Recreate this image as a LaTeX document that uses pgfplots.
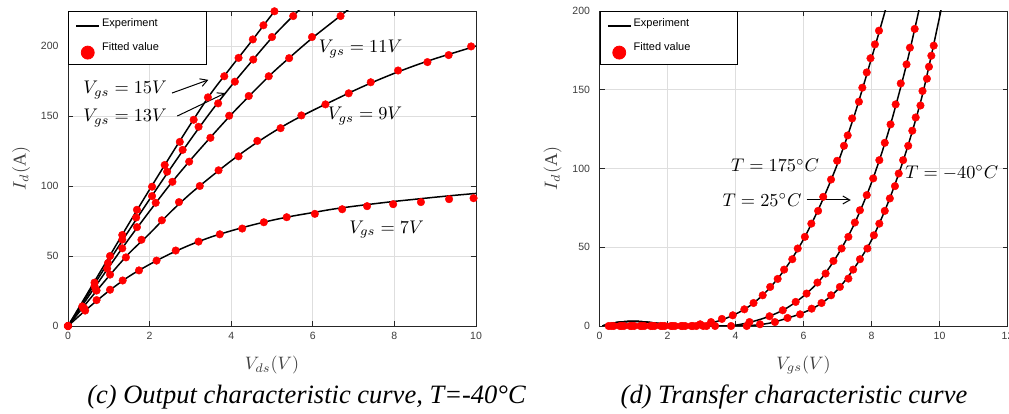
\documentclass[border=0pt]{standalone}
\usepackage{fontspec}
\setmainfont{Liberation Serif}
\newfontfamily\arialf{Liberation Sans}
\usepackage{pgfplots}
\pgfplotsset{compat=1.18}
\usetikzlibrary{arrows.meta}
\definecolor{tickgray}{RGB}{60,60,60}
\definecolor{gridgray}{RGB}{222,222,222}

\pgfplotsset{
  mystyle/.style={
    scale only axis,
    width=408pt, height=315pt,
    xmin=0, ymin=0,
    tick align=inside,
    major tick length=5pt,
    grid=major,
    grid style={gridgray, line width=0.7pt},
    axis line style={black!85, line width=0.8pt},
    tick style={black!85, line width=0.8pt},
    tick label style={font=\arialf\fontsize{10.5}{12}\selectfont, text=tickgray},
    /pgf/number format/assume math mode=true,
    yticklabel style={xshift=-6pt},
    xticklabel style={yshift=-3pt},
    label style={scale=1.8, text=black!75},
    xlabel style={at={(axis description cs:0.5,-0.124)}, anchor=center},
    ylabel style={at={(axis description cs:-0.115,0.5)}, anchor=center},
    legend style={at={(rel axis cs:0,1)}, anchor=north west, draw=black, line width=0.8pt, fill=white,
      font=\arialf\fontsize{11}{13}\selectfont, inner xsep=7pt, inner ysep=5pt, row sep=11pt},
    legend cell align=left,
  },
  explin/.style={black, line width=1.5pt, smooth, no markers},
  fitdot/.style={only marks, mark=*, mark size=3.8pt, mark options={fill=red, draw=red}, red},
  linleg/.style={legend image code/.code={\draw[black, line width=1.7pt] (0pt,-3pt) -- (23pt,-3pt);}},
  dotleg/.style={legend image code/.code={\fill[red] (11.5pt,-5pt) circle (6.5pt);}},
}

\begin{document}
\begin{tikzpicture}
\useasboundingbox (0,0) rectangle (1009pt,414pt);

% ---------------- (c) output characteristic ----------------
\begin{axis}[mystyle, at={(68pt,88pt)}, anchor=south west,
  xmax=10, ymax=225,
  xtick={0,2,4,6,8,10}, ytick={0,50,100,150,200},
  xlabel={$V_{ds}(V)$}, ylabel={$I_d(\mathrm{A})$}]
% Experiment lines
\addplot[explin, linleg] coordinates {(0,0)(0.5,24.5)(1,49)(1.5,73.5)(2,97.5)(2.5,121)(3,144)(3.5,166)(4,185)(4.5,203.5)(5,222.5)(5.5,240)};
\addlegendentry{Experiment}
\addplot[explin, forget plot] coordinates {(0,0)(0.5,23)(1,46)(1.5,68.5)(2,90.5)(2.5,112)(3,133)(3.5,153)(4,171.5)(4.5,189)(5,206)(5.5,221)(6,235)};
\addplot[explin, forget plot] coordinates {(0,0)(0.5,21)(1,42)(1.5,62.5)(2,82)(2.5,101)(3,118.5)(3.5,135)(4,151)(4.5,166)(5,180.5)(5.5,193.5)(6,206)(6.5,217.5)(7,229)};
\addplot[explin, forget plot] coordinates {(0,0)(0.5,18)(1,35.5)(1.5,52)(2,66)(2.5,81)(3,94.5)(3.5,106.5)(4,118)(4.5,128.5)(5,138)(5.5,146.5)(6,154)(6.5,161)(7,168)(7.5,174.5)(8,180.5)(8.5,186)(9,191)(9.5,195.5)(10,200)};
\addplot[explin, forget plot] coordinates {(0,0)(0.5,13)(1,25)(1.5,35.5)(2,44)(2.5,51.5)(3,58)(3.5,63.5)(4,68)(4.5,72)(5,75.5)(5.5,78.5)(6,81)(6.5,83.5)(7,85.5)(7.5,87.3)(8,89)(8.5,90.5)(9,92)(9.5,93.4)(10,94.7)};
% Fitted values
\addplot[fitdot, dotleg] coordinates {(0,0)(0.35,14)(0.65,31)(1.03,50)(1.33,65)(1.69,83)(2.06,99.5)(2.37,115)(2.74,131.5)(3.08,147.3)(3.43,163.3)(3.83,178.4)(4.18,191.5)(4.53,204.7)(4.79,214.8)(5.06,224.8)};
\addlegendentry{Fitted value\hspace*{38pt}}
\addplot[fitdot, forget plot] coordinates {(0,0)(0.37,13)(0.65,28.5)(0.98,45)(1.33,61.7)(1.67,77.5)(2.06,92.8)(2.43,110.2)(2.81,125.8)(3.2,142.3)(3.68,159)(4.09,174.5)(4.54,190.3)(5.0,206.4)(5.52,221.4)};
\addplot[fitdot, forget plot] coordinates {(0,0)(0.4,12.5)(0.68,26)(0.96,41)(1.33,55.5)(1.69,70.6)(2.15,88)(2.56,103)(2.97,117.4)(3.49,134.4)(3.95,150.2)(4.43,164.3)(4.92,178.4)(5.42,191.3)(5.98,206.4)(6.68,221.4)};
\addplot[fitdot, forget plot] coordinates {(0,0)(0.42,11)(0.7,25.3)(1.03,36.7)(1.42,49)(1.8,61.6)(2.3,75.5)(2.72,88.5)(3.23,100)(3.69,111.2)(4.18,121.2)(4.64,132.2)(5.21,141.3)(5.72,150.4)(6.31,158.3)(6.88,166.2)(7.42,174.1)(8.09,182.5)(8.81,188.5)(9.33,193.5)(9.88,199.7)};
\addplot[fitdot, forget plot] coordinates {(0,0)(0.7,18.5)(1.03,25.9)(1.34,32.5)(1.74,39.7)(2.17,46.7)(2.64,53.9)(3.2,60.3)(3.72,65.5)(4.27,69.6)(4.8,74.1)(5.36,77.7)(6.05,80.1)(6.72,83.4)(7.33,85.6)(7.97,87)(8.65,88.5)(9.34,90.6)(9.94,91.3)};
% annotations
\begin{scope}[every node/.style={scale=1.83, text=black}]
\node at (axis cs:7.17,198) {$V_{gs}=11V$};
\node at (axis cs:7.28,150) {$V_{gs}=9V$};
\node at (axis cs:7.81,69) {$V_{gs}=7V$};
\node at (axis cs:1.4,168.6) {$V_{gs}=15V$};
\node at (axis cs:1.4,148.5) {$V_{gs}=13V$};
\end{scope}
\draw[-{Straight Barb[length=7pt,width=8pt]}, line width=1pt] (axis cs:2.55,166.4) -- (axis cs:3.44,175.8);
\draw[-{Straight Barb[length=7pt,width=8pt]}, line width=1pt] (axis cs:2.68,150) -- (axis cs:3.86,166.4);
\end{axis}

% ---------------- (d) transfer characteristic ----------------
\begin{axis}[mystyle, at={(599.5pt,88pt)}, anchor=south west,
  xmax=12, ymax=200,
  xtick={0,2,4,6,8,10,12}, ytick={0,50,100,150,200},
  xlabel={$V_{gs}(V)$}, ylabel={$I_d(\mathrm{A})$}]
\addplot[explin, linleg] coordinates {(0.08,0)(0.5,2.2)(1,3)(1.5,2.2)(2,0.9)(2.5,0.2)(3,0.8)(3.5,3.2)(4,7.5)(4.5,14)(5,24)(5.5,37.5)(6,55)(6.5,77)(7,103)(7.5,134)(8,170)(8.4,200)(8.5,210)};
\addlegendentry{Experiment}
\addplot[explin, forget plot] coordinates {(0.08,0)(0.5,2.2)(1,3)(1.5,2.2)(2,0.9)(2.5,0.2)(3,0)(3.5,0)(4,0.5)(4.5,2.8)(5,6.2)(5.5,11.3)(6,19)(6.5,29.5)(7,45)(7.5,65)(8,91)(8.5,123.5)(9,163.5)(9.4,201)};
\addplot[explin, forget plot] coordinates {(0.08,0)(0.5,2.2)(1,3)(1.5,2.2)(2,0.9)(2.5,0.2)(3,0)(4,0)(4.5,0.4)(5,1.8)(5.5,4.8)(6,8.5)(6.5,14)(7,23)(7.5,37)(8,54.5)(8.5,79)(9,109.5)(9.5,147)(10,196)(10.05,202)};
\addplot[fitdot, dotleg] coordinates {(0.27,0)(0.6,0)(0.9,0)(1.2,0)(1.5,0)(1.8,0)(2.1,0)(2.4,0)(2.7,0)(2.96,1.1)(3.28,2.5)(3.6,4.5)(3.92,6.8)(4.26,10.6)(4.53,14.6)(4.8,19.5)(5.02,24.8)(5.24,29.9)(5.43,35.8)(5.67,42.4)(5.83,49.2)(6.04,56.6)(6.23,65)(6.43,73.1)(6.58,82)(6.81,93)(6.99,104.9)(7.19,114.4)(7.3,121)(7.43,131.8)(7.63,142.4)(7.73,151.3)(7.86,161)(7.97,170)(8.1,178.8)(8.22,187.5)};
\addlegendentry{Fitted value\hspace*{38pt}}
\addplot[fitdot, forget plot] coordinates {(0.35,0)(0.65,0)(0.95,0)(1.25,0)(1.55,0)(1.85,0)(2.15,0)(2.45,0)(2.75,0)(3.05,0)(3.4,0)(3.87,0)(4.41,2.5)(5.0,6.2)(5.39,10)(5.77,15.3)(6.09,20.6)(6.41,27.6)(6.65,33.3)(6.88,41.3)(7.12,49.2)(7.32,56.6)(7.51,65.7)(7.66,73.5)(7.86,83.1)(8.05,93.7)(8.23,105.3)(8.39,116.3)(8.56,128)(8.71,140.7)(8.86,154)(9.03,166.1)(9.13,176.7)(9.27,188.6)};
\addplot[fitdot, forget plot] coordinates {(0.42,0)(0.72,0)(1.02,0)(1.32,0)(1.62,0)(1.92,0)(2.22,0)(2.52,0)(2.85,0)(3.15,0)(4.33,0)(4.72,1.1)(5.16,2.5)(5.53,5.1)(5.9,7.4)(6.24,11)(6.53,14.6)(6.81,19.5)(7.07,24.8)(7.32,30.1)(7.46,35.8)(7.66,42.4)(7.88,49.2)(8.07,57.6)(8.23,65)(8.39,73.1)(8.54,81)(8.69,88.8)(8.8,96.8)(8.93,105.3)(9.08,114.4)(9.2,124)(9.3,132.4)(9.44,140)(9.5,149.2)(9.63,157)(9.69,164.6)(9.76,171.6)(9.83,178)};
\begin{scope}[every node/.style={scale=1.83, text=black}]
\node at (axis cs:5.16,102) {$T=175^{\circ}C$};
\node at (axis cs:4.78,80) {$T=25^{\circ}C$};
\node at (axis cs:10.36,97.2) {$T=-40^{\circ}C$};
\end{scope}
\draw[-{Straight Barb[length=7pt,width=8pt]}, line width=1pt] (axis cs:6.09,80) -- (axis cs:7.39,80);
\end{axis}

% captions
\node[font=\fontsize{26.5}{30}\selectfont\itshape] at (306.5pt,17pt) {(c) Output characteristic curve, T=-40°C};
\node[font=\fontsize{26.5}{30}\selectfont\itshape] at (794pt,17pt) {(d) Transfer characteristic curve};
\end{tikzpicture}
\end{document}
